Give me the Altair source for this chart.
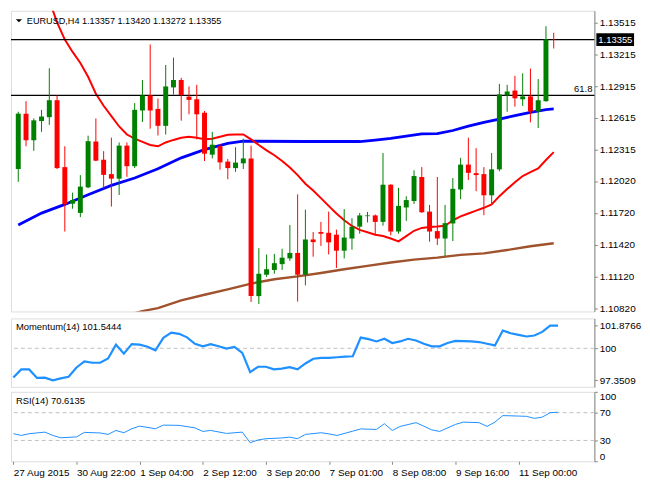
import altair as alt
import pandas as pd

# ---------------- data ----------------
idx = list(range(70))
opens = [1.12133, 1.12656, 1.12405, 1.12586, 1.12623, 1.12783, 1.12151, 1.11806, 1.11719, 1.11960,
         1.12393, 1.12221, 1.12085, 1.12042, 1.12354, 1.12160, 1.12686, 1.12828, 1.12701, 1.12541,
         1.12904, 1.12974, 1.12817, 1.12792, 1.12665, 1.12269, 1.12348, 1.12203, 1.12142, 1.12187,
         1.12233, 1.10933, 1.11135, 1.11180, 1.11235, 1.11289, 1.11341, 1.11135, 1.11468, 1.11538,
         1.11531, 1.11513, 1.11362, 1.11477, 1.11589, 1.11688, 1.11695, 1.11634, 1.11985, 1.11543,
         1.11770, 1.11831, 1.12058, 1.11731, 1.11547, 1.11477, 1.11619, 1.11940, 1.12175, 1.12094,
         1.12085, 1.11885, 1.12130, 1.12828, 1.12874, 1.12792, 1.12819, 1.12677, 1.12774, 1.13357]
highs = [1.12674, 1.12774, 1.12611, 1.12692, 1.13085, 1.12828, 1.12348, 1.11910, 1.12076, 1.12448,
         1.12611, 1.12302, 1.12429, 1.12384, 1.12384, 1.12756, 1.12974, 1.13309, 1.12799, 1.13116,
         1.13185, 1.12994, 1.12913, 1.12928, 1.12681, 1.12484, 1.12369, 1.12227, 1.12339, 1.12420,
         1.12354, 1.11386, 1.11326, 1.11332, 1.11380, 1.11604, 1.11894, 1.11749, 1.11538, 1.11634,
         1.11731, 1.11561, 1.11755, 1.11668, 1.11719, 1.11728, 1.11704, 1.12284, 1.11990, 1.11955,
         1.11876, 1.12121, 1.12151, 1.11794, 1.12058, 1.11794, 1.12048, 1.12239, 1.12429, 1.12330,
         1.12151, 1.12284, 1.12937, 1.12928, 1.13013, 1.13037, 1.13082, 1.12983, 1.13482, 1.13420]
lows = [1.12012, 1.12348, 1.12305, 1.12484, 1.12550, 1.12133, 1.11543, 1.11758, 1.11679, 1.11951,
        1.12208, 1.11951, 1.11779, 1.11888, 1.12060, 1.12142, 1.12577, 1.12514, 1.12450, 1.12459,
        1.12838, 1.12590, 1.12650, 1.12414, 1.12209, 1.12233, 1.12127, 1.12037, 1.12106, 1.12133,
        1.10878, 1.10858, 1.11114, 1.11144, 1.11180, 1.11266, 1.10881, 1.11035, 1.11305, 1.11407,
        1.11326, 1.11199, 1.11289, 1.11371, 1.11522, 1.11629, 1.11513, 1.11598, 1.11507, 1.11522,
        1.11643, 1.11804, 1.11719, 1.11447, 1.11416, 1.11311, 1.11453, 1.11849, 1.12030, 1.11924,
        1.11697, 1.11810, 1.12112, 1.12674, 1.12722, 1.12729, 1.12574, 1.12520, 1.12768, 1.13272]
closes = [1.12656, 1.12405, 1.12593, 1.12629, 1.12783, 1.12142, 1.11801, 1.11840, 1.11967, 1.12396,
          1.12212, 1.12078, 1.12042, 1.12354, 1.12160, 1.12692, 1.12828, 1.12686, 1.12541, 1.12913,
          1.12974, 1.12831, 1.12786, 1.12650, 1.12278, 1.12363, 1.12196, 1.12142, 1.12194, 1.12233,
          1.10933, 1.11144, 1.11187, 1.11244, 1.11296, 1.11341, 1.11135, 1.11468, 1.11443, 1.11522,
          1.11441, 1.11362, 1.11486, 1.11589, 1.11695, 1.11695, 1.11634, 1.11985, 1.11543, 1.11785,
          1.11840, 1.12067, 1.11725, 1.11543, 1.11477, 1.11622, 1.11946, 1.12175, 1.12097, 1.12076,
          1.11885, 1.12130, 1.12838, 1.12865, 1.12801, 1.12819, 1.12677, 1.12783, 1.13357, 1.13355]

ma_red = [1.14334, 1.14180, 1.14017, 1.13872, 1.13726, 1.13518, 1.13355, 1.13239, 1.13134, 1.13004,
          1.12844, 1.12731, 1.12632, 1.12535, 1.12459, 1.12420, 1.12390, 1.12360, 1.12348, 1.12384,
          1.12408, 1.12429, 1.12438, 1.12429, 1.12414, 1.12420, 1.12438, 1.12457, 1.12459, 1.12459,
          1.12414, 1.12360, 1.12309, 1.12263, 1.12209, 1.12148, 1.12076, 1.11994, 1.11931, 1.11858,
          1.11785, 1.11713, 1.11649, 1.11595, 1.11559, 1.11536, 1.11513, 1.11500, 1.11477, 1.11450,
          1.11500, 1.11550, 1.11577, 1.11586, 1.11590, 1.11598, 1.11649, 1.11686, 1.11713, 1.11740,
          1.11767, 1.11799, 1.11877, 1.11944, 1.12008, 1.12067, 1.12103, 1.12139, 1.12218, 1.12293]

blue_idx = [0, 3, 6, 9, 12, 15, 18, 21, 24, 27, 29, 37, 44, 46, 48, 50, 52, 54, 56, 58, 60, 62, 64, 66, 68, 69]
blue_val = [1.11604, 1.11717, 1.11799, 1.11890, 1.11979, 1.12048, 1.12135, 1.12239, 1.12316, 1.12375,
            1.12396, 1.12393, 1.12393, 1.12407, 1.12423, 1.12445, 1.12466, 1.12468, 1.12497, 1.12538,
            1.12574, 1.12604, 1.12638, 1.12668, 1.12695, 1.12701]

brown_idx = [14, 16, 18, 21, 24, 27, 30, 33, 36, 39, 42, 45, 48, 51, 54, 57, 60, 63, 66, 69]
brown_val = [1.10751, 1.10792, 1.10819, 1.10892, 1.10946, 1.10996, 1.11051, 1.11092, 1.11119, 1.11151,
             1.11187, 1.11219, 1.11250, 1.11278, 1.11296, 1.11323, 1.11336, 1.11368, 1.11404, 1.11432]

price_levels = [1.13355, 1.12828]
level_labels = ["", "61.8"]
last_price = 1.13355
price_ticks = [1.10820, 1.11120, 1.11420, 1.11720, 1.12020, 1.12315, 1.12615, 1.12915, 1.13215, 1.13515]
header = "EURUSD,H4  1.13357 1.13420 1.13272 1.13355"

momentum = [97.57, 98.25, 98.25, 97.54, 97.56, 97.35, 97.51, 97.64, 98.41, 98.91,
            98.80, 98.80, 99.15, 100.30, 99.56, 100.35, 100.30, 100.13, 99.83, 100.87,
            101.30, 101.20, 100.91, 100.38, 100.17, 100.34, 100.17, 99.97, 100.11, 99.62,
            98.03, 98.47, 98.47, 98.25, 98.31, 98.44, 98.25, 98.74, 99.13, 99.21,
            99.21, 99.26, 99.31, 99.34, 100.89, 100.76, 100.57, 100.79, 100.44, 100.57,
            100.79, 100.65, 100.38, 100.16, 100.16, 100.44, 100.62, 100.60, 100.57, 100.52,
            100.38, 100.24, 101.47, 101.25, 101.12, 100.98, 101.06, 101.36, 101.8766, 101.8766]
mom_ticks = [97.3509, 100, 101.8766]
mom_label = "Momentum(14) 101.5444"

rsi_idx = [0, 1, 2, 4, 5, 6, 8, 9, 11, 12, 13, 14, 15, 16, 18, 19, 21, 23, 24, 25,
           27, 29, 30, 31, 32, 34, 35, 36, 37, 39, 40, 41, 43, 44, 46, 47, 48, 49, 51, 52,
           53, 54, 56, 57, 59, 60, 61, 62, 64, 65, 66, 67, 68, 69]
rsi_val = [39.7, 37.2, 39.7, 42.0, 37.2, 33.9, 35.1, 41.6, 40.8, 38.7, 44.4, 41.1, 46.9, 50.6, 46.9, 52.1, 51.7, 48.1, 43.0, 44.4,
           40.1, 42.0, 26.7, 30.7, 32.5, 33.6, 34.8, 32.5, 38.7, 41.1, 39.4, 37.2, 43.4, 46.6, 45.9, 54.1, 44.4, 50.2, 55.6, 50.6,
           45.2, 43.0, 53.1, 56.4, 55.6, 50.2, 56.4, 65.8, 65.1, 64.7, 61.8, 63.6, 70.0, 70.6]
rsi_ticks = [0, 30, 70, 100]
rsi_levels = [30, 70]
rsi_label = "RSI(14) 70.6135"

xtick_idx = [0, 8, 16, 24, 32, 40, 48, 56, 64]
xlabels = ["27 Aug 2015", "30 Aug 22:00", "1 Sep 04:00", "2 Sep 12:00", "3 Sep 20:00",
           "7 Sep 01:00", "8 Sep 08:00", "9 Sep 16:00", "11 Sep 00:00"]

# ---------------- styling ----------------
W = 588
H_MAIN = 303
H_MOM = 69
H_RSI = 70
FONT = "Liberation Sans"
GREEN = "#008000"
RED = "#FF0000"
BLUE = "#0000FF"
BROWN = "#A0522D"
DODGER = "#1E90FF"

xs = alt.Scale(domain=[-0.3, 73.6], nice=False, zero=False)
ys = alt.Scale(domain=[1.10788, 1.13627], nice=False, zero=False)
yax = alt.Axis(orient="right", values=price_ticks, format=".5f", title=None, tickSize=3,
               labelPadding=2, grid=False)

candles = pd.DataFrame({"i": idx, "open": opens, "high": highs, "low": lows, "close": closes})
candles["dir"] = ["up" if c >= o else "down" for o, c in zip(opens, closes)]
col = alt.Color("dir:N", scale=alt.Scale(domain=["up", "down"], range=[GREEN, RED]), legend=None)

base = alt.Chart(candles).encode(x=alt.X("i:Q", scale=xs, axis=None))
wick = base.mark_rule(strokeWidth=1).encode(
    y=alt.Y("low:Q", scale=ys, axis=yax), y2="high:Q", color=col)
body = base.mark_bar(size=5).encode(
    y=alt.Y("open:Q", scale=ys, axis=yax), y2="close:Q", color=col)

red_df = pd.DataFrame({"i": idx, "v": ma_red})
blue_df = pd.DataFrame({"i": blue_idx, "v": blue_val})
brown_df = pd.DataFrame({"i": brown_idx, "v": brown_val})


def ma_line(df, color, w):
    return alt.Chart(df).mark_line(color=color, strokeWidth=w, clip=True).encode(
        x=alt.X("i:Q", scale=xs, axis=None),
        y=alt.Y("v:Q", scale=ys, axis=yax))


red_line = ma_line(red_df, RED, 2)
blue_line = ma_line(blue_df, BLUE, 2.8)
brown_line = ma_line(brown_df, BROWN, 2.4)

lev_df = pd.DataFrame({"v": price_levels, "t": level_labels})
hlines = alt.Chart(lev_df).mark_rule(color="black", strokeWidth=1.2).encode(
    y=alt.Y("v:Q", scale=ys, axis=yax))
lev_text = alt.Chart(lev_df).mark_text(align="right", baseline="bottom", dy=-1,
                                       font=FONT, fontSize=9.5, color="black").encode(
    x=alt.value(W - 2), y=alt.Y("v:Q", scale=ys, axis=yax), text="t:N")

tag_df = pd.DataFrame({"v": [last_price], "t": [f"{last_price:.5f}"]})
tag_bg = alt.Chart(tag_df).mark_rule(color="black", strokeWidth=13).encode(
    x=alt.value(W + 2), x2=alt.value(W + 40), y=alt.Y("v:Q", scale=ys, axis=yax))
tag_txt = alt.Chart(tag_df).mark_text(align="left", baseline="middle", font=FONT,
                                      fontSize=9.5, color="white").encode(
    x=alt.value(W + 4), y=alt.Y("v:Q", scale=ys, axis=yax), text="t:N")

head_df = pd.DataFrame({"t": [header]})
head_txt = alt.Chart(head_df).mark_text(align="left", baseline="middle", font=FONT,
                                        fontSize=9.2, color="black").encode(
    x=alt.value(16), y=alt.value(10), text="t:N")
head_tri = alt.Chart(head_df).mark_point(shape="M-1,-0.5L1,-0.5L0,0.5Z", size=40, filled=True,
                                         color="black", opacity=1).encode(
    x=alt.value(8), y=alt.value(10))

main = alt.layer(brown_line, blue_line, red_line, hlines, wick, body, lev_text,
                 tag_bg, tag_txt, head_tri, head_txt).properties(width=W, height=H_MAIN)

# ---------------- momentum panel ----------------
mom_df = pd.DataFrame({"i": idx, "m": momentum})
yms = alt.Scale(domain=[96.80, 102.48], nice=False, zero=False)
mom_axis = alt.Axis(orient="right", values=mom_ticks, title=None, tickSize=3, labelPadding=2,
                    grid=False,
                    labelExpr="datum.value == 100 ? '100' : format(datum.value, '.4f')")
mom_line = alt.Chart(mom_df).mark_line(color=DODGER, strokeWidth=2.2).encode(
    x=alt.X("i:Q", scale=xs, axis=None), y=alt.Y("m:Q", scale=yms, axis=mom_axis))
mom_ref = alt.Chart(pd.DataFrame({"m": [100]})).mark_rule(
    color="#C0C0C0", strokeDash=[4, 3], strokeWidth=1).encode(
    y=alt.Y("m:Q", scale=yms, axis=mom_axis))
mom_txt = alt.Chart(pd.DataFrame({"t": [mom_label]})).mark_text(
    align="left", baseline="middle", font=FONT, fontSize=9.5, color="black").encode(
    x=alt.value(5), y=alt.value(9), text="t:N")
mom = alt.layer(mom_ref, mom_line, mom_txt).properties(width=W, height=H_MOM)

# ---------------- RSI panel ----------------
rsi_df = pd.DataFrame({"i": rsi_idx, "r": rsi_val})
yrs = alt.Scale(domain=[0, 100], nice=False, zero=False)
rsi_axis = alt.Axis(orient="right", values=rsi_ticks, title=None, tickSize=3, labelPadding=2,
                    grid=False, labelFlush=True)
label_arr = "[" + ",".join("'" + s + "'" for s in xlabels) + "]"
x_axis = alt.Axis(values=xtick_idx, title=None, tickSize=3, labelPadding=3, grid=False,
                  labelAlign="left", labelFlush=False, labelOverlap=False,
                  labelExpr=label_arr + "[round(datum.value / 8)]", domain=False)
rsi_line = alt.Chart(rsi_df).mark_line(color=DODGER, strokeWidth=1).encode(
    x=alt.X("i:Q", scale=xs, axis=x_axis), y=alt.Y("r:Q", scale=yrs, axis=rsi_axis))
rsi_ref = alt.Chart(pd.DataFrame({"r": rsi_levels})).mark_rule(
    color="#C0C0C0", strokeDash=[4, 3], strokeWidth=1).encode(
    y=alt.Y("r:Q", scale=yrs, axis=rsi_axis))
rsi_txt = alt.Chart(pd.DataFrame({"t": [rsi_label]})).mark_text(
    align="left", baseline="middle", font=FONT, fontSize=9.5, color="black").encode(
    x=alt.value(5), y=alt.value(9), text="t:N")
rsi = alt.layer(rsi_ref, rsi_line, rsi_txt).properties(width=W, height=H_RSI)

chart = alt.vconcat(main, mom, rsi, spacing=3).properties(
    padding={"left": 0, "top": 0, "right": 0, "bottom": 0}
).configure_view(stroke="black", strokeWidth=1.2).configure_axis(
    labelFont=FONT, labelFontSize=9.5, labelColor="black", tickColor="black",
    domainColor="black", domainWidth=1, tickWidth=1
).configure(background="white")

chart.save("out.html", embed_options={"renderer": "svg", "actions": False})
